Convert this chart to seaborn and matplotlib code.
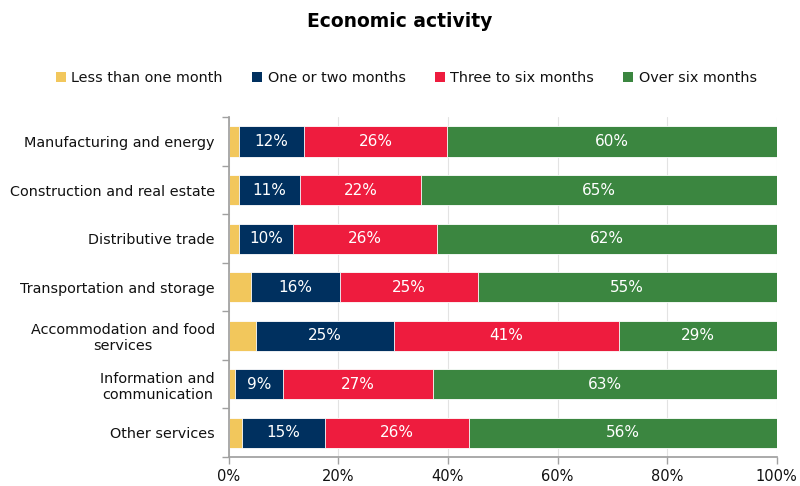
import numpy as np
import pandas as pd
import matplotlib
matplotlib.use("Agg")
import matplotlib.pyplot as plt
import seaborn as sns
from matplotlib.patches import Patch

# ----------------- DATA -----------------
categories = [
    "Manufacturing and energy",
    "Construction and real estate",
    "Distributive trade",
    "Transportation and storage",
    "Accommodation and food\nservices",
    "Information and\ncommunication",
    "Other services",
]
series_names = ["Less than one month", "One or two months", "Three to six months", "Over six months"]
less_one = [1.9, 1.9, 1.8, 4.1, 4.9, 1.1, 2.4]
one_two = [11.8, 11.1, 9.9, 16.2, 25.2, 8.8, 15.2]
three_six = [26.1, 22.0, 26.3, 25.1, 41.1, 27.4, 26.2]
over_six = [60.2, 65.0, 62.0, 54.6, 28.8, 62.7, 56.2]
colors = ["#F2C75C", "#00305F", "#EE1C3E", "#3B8640"]
x_ticks = [0, 20, 40, 60, 80, 100]

# ----------------- PLOT -----------------
sns.set_theme(style="white")
plt.rcParams["font.family"] = ["DejaVu Sans"]
txt = "#111111"

df = pd.DataFrame({"category": categories})
values = [less_one, one_two, three_six, over_six]
cum = np.cumsum(np.array(values), axis=0)
for i, name in enumerate(series_names):
    df[name] = cum[i]

fig = plt.figure(figsize=(8, 4.86), dpi=100)
ax = fig.add_axes([0.286, 0.0597, 0.685, 0.699])

# draw cumulative totals from the longest down so each overlay covers the rest
for i in reversed(range(len(series_names))):
    sns.barplot(data=df, x=series_names[i], y="category", color=colors[i],
                orient="h", width=0.62, edgecolor="white", linewidth=0.6,
                saturation=1, ax=ax, zorder=2)

# segment labels
for i in range(1, len(series_names)):
    starts = cum[i] - np.array(values[i])
    for j, v in enumerate(values[i]):
        ax.text(starts[j] + v / 2, j, f"{round(v):.0f}%", ha="center", va="center",
                color="white", fontsize=11, zorder=5)

ax.set_xlim(0, 100)
ax.set_ylim(len(categories) - 0.5, -0.5)
ax.set_xticks(x_ticks)
ax.set_xticklabels([f"{t}%" for t in x_ticks], fontsize=10.5, color=txt)
ax.set_yticks(range(len(categories)))
ax.set_yticklabels(categories, fontsize=10.4, color=txt, multialignment="center")
ax.tick_params(axis="y", which="major", length=0, pad=10)
ax.set_yticks(np.arange(-0.5, len(categories), 1), minor=True)
ax.tick_params(axis="y", which="minor", left=True, length=5, color="#A0A0A0", width=1)
ax.tick_params(axis="x", length=5, color="#A0A0A0", width=1, direction="out", bottom=True)
ax.set_xlabel("")
ax.set_ylabel("")

ax.grid(axis="x", color="#E3E3E3", linewidth=0.8, zorder=0)
ax.set_axisbelow(True)
sns.despine(ax=ax, top=True, right=True)
ax.spines["left"].set_color("#A0A0A0")
ax.spines["bottom"].set_color("#A0A0A0")

fig.text(0.5, 0.955, "Economic activity", ha="center", va="center",
         fontsize=13.5, fontweight="bold", color="black")

handles = [Patch(facecolor=c, edgecolor="none") for c in colors]
fig.legend(handles, series_names, loc="center", bbox_to_anchor=(0.508, 0.84), ncol=4,
           frameon=False, fontsize=10.4, handlelength=0.7, handleheight=0.7,
           handletextpad=0.4, columnspacing=2.0, labelcolor=txt)

fig.savefig("out.png", dpi=100)
